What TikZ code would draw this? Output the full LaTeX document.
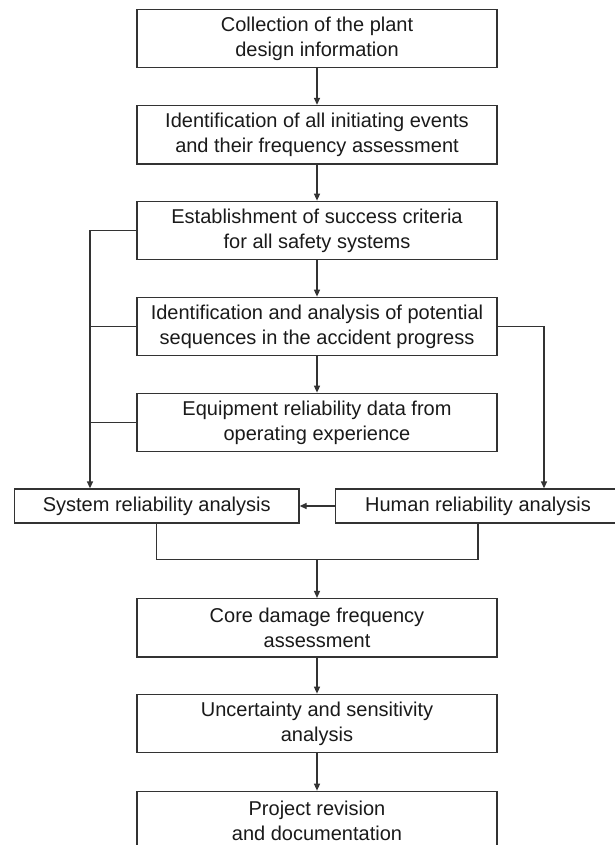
\documentclass[tikz,border=0pt]{standalone}
\usepackage{fontspec}
\setmainfont{Liberation Sans}
\usetikzlibrary{arrows.meta}
\definecolor{linecol}{HTML}{333333}
\definecolor{textcol}{HTML}{1A1A1A}
\begin{document}
\begin{tikzpicture}[x=1pt,y=-1pt,
  box/.style={draw=linecol, line width=1.3pt, minimum width=360pt, minimum height=58.4pt, inner sep=0pt, align=center, font=\fontsize{20}{25}\selectfont, text=textcol},
  sbox/.style={box, minimum width=284.5pt, minimum height=34pt},
  flow/.style={draw=linecol, line width=1.3pt, -{Triangle[length=7pt,width=6pt]}},
  link/.style={draw=linecol, line width=1.3pt}]
\useasboundingbox (0,0) rectangle (615,845);
\clip (0,0) rectangle (615,845);
\fill[white] (0,0) rectangle (615,845);
\node[box] (b1) at (317,38.5) {Collection of the plant\\design information};
\node[box] (b2) at (317,134.7) {Identification of all initiating events\\and their frequency assessment};
\node[box] (b3) at (317,230.5) {Establishment of success criteria\\for all safety systems};
\node[box] (b4) at (317,326.5) {Identification and analysis of potential\\sequences in the accident progress};
\node[box] (b5) at (317,422.5) {Equipment reliability data from\\operating experience};
\node[sbox] (sys) at (156.75,506) {System reliability analysis};
\node[sbox] (hum) at (478,506) {Human reliability analysis};
\node[box] (b8) at (317,627.8) {Core damage frequency\\assessment};
\node[box] (b9) at (317,723.5) {Uncertainty and sensitivity\\analysis};
\node[box] (b10) at (317,820.5) {Project revision\\and documentation};
\coordinate (lx) at (90,0);
\coordinate (rx) at (544,0);
\coordinate (jy) at (0,559.5);
\draw[flow] (b1) -- (b2);
\draw[flow] (b2) -- (b3);
\draw[flow] (b3) -- (b4);
\draw[flow] (b4) -- (b5);
\draw[flow] (b3.west) -| (lx |- sys.north);
\draw[link] (b4.west) -- (lx |- b4.west);
\draw[link] (b5.west) -- (lx |- b5.west);
\draw[flow] (b4.east) -| (rx |- hum.north);
\draw[flow] (hum.west) -- (sys.east);
\draw[link] (sys.south) |- (hum.south |- jy) -- (hum.south);
\draw[flow] (b8.north |- jy) -- (b8.north);
\draw[flow] (b8) -- (b9);
\draw[flow] (b9) -- (b10);
\end{tikzpicture}
\end{document}
